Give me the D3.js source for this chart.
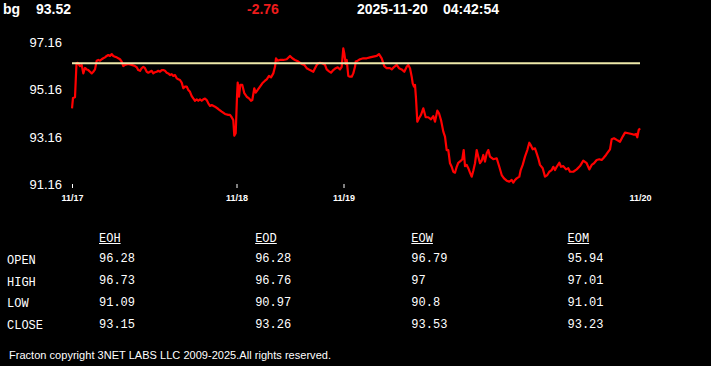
<!DOCTYPE html>
<html><head><meta charset="utf-8">
<script src="https://cdn.jsdelivr.net/npm/d3@7"></script>
<style>html,body{margin:0;padding:0;background:#000;overflow:hidden}svg{display:block}</style>
</head><body>
<svg id="c" width="711" height="366"></svg>
<script>
// ---- data ----
const symbolName = "bg";
const lastPrice = "93.52";
const netChange = "-2.76";
const stampDate = "2025-11-20";
const stampTime = "04:42:54";

const yTickValues = [91.16, 93.16, 95.16, 97.16];
const xTickValues = [0, 164.5, 271.5, 568];
const xTickLabels = ["11/17", "11/18", "11/19", "11/20"];
const refLevel = 96.28;

// [sample time index, price]
const priceSeries = [
[0,94.37],[1,94.81],[3,94.84],[4.5,96.28],[5.7,96.30],[8,96.16],[9.7,96.21],[11.3,95.85],[13,96.08],[14.7,96.02],
[16.3,95.99],[18,95.92],[19.7,95.85],[21.3,95.92],[23,96.02],[24.7,96.39],[26.3,96.42],[28,96.39],[29.7,96.45],[31.3,96.49],
[33,96.53],[34.7,96.59],[36.3,96.63],[38,96.59],[39.7,96.67],[41.3,96.59],[43,96.56],[44.7,96.53],[46.3,96.49],[48,96.45],
[49.7,96.35],[51.3,96.16],[53,96.21],[56.3,96.25],[59.7,96.21],[63,96.16],[64.7,96.11],[66.3,95.99],[68,95.96],[69.7,96.07],
[71.3,96.13],[73,96.07],[74.7,95.92],[76.3,95.88],[78,95.92],[79.7,95.96],[81.3,95.85],[83,95.90],[84.7,95.92],[86.3,95.96],
[88,95.92],[89.7,95.99],[91.3,95.99],[93,95.96],[94.7,95.88],[96.3,95.85],[98,95.78],[99.7,95.82],[101.3,95.74],[103,95.78],
[104.7,95.64],[106.3,95.60],[108,95.57],[109.7,95.46],[111.3,95.22],[113,95.29],[114.7,95.29],[116.3,95.15],[118,95.07],[119.7,94.89],
[121.3,94.79],[123,94.69],[124.7,94.75],[126.3,94.69],[128,94.75],[129.7,94.69],[131.3,94.75],[133,94.78],[134.7,94.72],[136.3,94.58],
[138,94.47],[139.7,94.51],[143,94.44],[146.3,94.34],[149.7,94.23],[153,94.13],[156.3,94.09],[158,94.09],[159.7,93.99],[161.3,93.87],
[162.3,93.21],[163.7,93.31],[165,94.86],[165.7,95.46],[167,94.86],[168.3,95.36],[170.3,95.36],[172.3,95.01],[174.7,94.86],[177,94.79],
[179,94.69],[180.3,94.72],[182.3,95.22],[183.7,95.03],[185.7,95.15],[188,95.29],[190.3,95.43],[193,95.54],[194.7,95.60],[197,95.74],
[199,95.68],[201.3,95.85],[203,96.13],[204,96.49],[205.7,96.39],[208,96.42],[211.3,96.42],[214.7,96.45],[218,96.59],[220.3,96.49],
[223,96.42],[226.3,96.35],[229.7,96.25],[232.3,96.21],[234.7,96.07],[238,95.99],[241.3,95.92],[243,96.07],[244.7,96.21],[246.3,96.28],
[248,96.30],[250.3,96.28],[253,96.21],[254.7,96.02],[256.3,95.96],[259,95.88],[261.3,95.99],[263.7,96.07],[265.7,96.11],[268,96.02],
[269.7,96.13],[271.3,96.91],[272.3,96.70],[273.7,96.25],[274.7,96.42],[276.3,95.74],[278,95.71],[279.7,95.71],[281.3,95.85],[283,96.13],
[283.7,96.35],[285.7,96.39],[288,96.45],[291.3,96.49],[294.7,96.49],[298,96.53],[301.3,96.56],[304.7,96.59],[307,96.67],[309.7,96.49],
[312.3,96.16],[314.7,96.07],[318,96.07],[319.7,96.02],[322.3,96.13],[324.7,96.21],[327,96.07],[329.7,96.02],[332.3,95.92],[334.7,96.13],
[336.3,96.21],[338,96.07],[339.7,95.71],[340.7,95.43],[342,95.29],[343,95.36],[344,94.79],[345.3,93.80],[347,93.95],[349,94.09],
[351.3,94.37],[353.7,93.99],[356.3,93.99],[359,93.90],[361.3,94.04],[363,93.80],[365.3,94.27],[367,94.16],[369,93.87],[371.3,93.38],
[373,93.17],[374.7,92.60],[376.3,92.60],[378,92.04],[379.7,91.89],[381.3,91.68],[383,91.64],[384.7,91.89],[386.3,92.06],[389,92.15],
[390.3,92.21],[391.7,92.60],[393,91.92],[394.7,91.97],[396.3,91.83],[398,91.64],[399.7,91.47],[401.3,91.72],[403,92.04],[404.7,92.60],
[406.3,92.32],[408,92.04],[409.7,92.15],[411.3,92.39],[413,92.11],[414.7,92.46],[416.3,92.60],[418,92.32],[421.3,92.21],[424.7,92.25],
[427.3,91.89],[429.7,91.54],[432,91.40],[434.7,91.30],[437.3,91.26],[439.7,91.33],[441.3,91.22],[443,91.33],[444.7,91.40],[447.3,91.47],
[448.7,91.75],[450.7,91.97],[453,92.32],[455.3,92.60],[457.3,92.91],[458.7,92.81],[460.7,92.63],[463,92.67],[464.7,92.46],[466.3,92.25],
[468,91.97],[470.7,91.83],[473,91.47],[475.3,91.54],[477.3,91.68],[479.7,91.75],[481.3,91.89],[483,91.75],[484.7,91.89],[487.3,92.06],
[489,91.89],[491.3,91.92],[494,91.78],[496.3,91.83],[498,91.68],[501.3,91.68],[504.7,91.78],[508,91.92],[511.3,92.15],[514.7,92.04],
[517.3,91.78],[519.7,91.97],[522,92.04],[524.7,92.18],[527.3,92.21],[529.7,92.18],[531.3,92.25],[534,92.39],[536.3,92.53],[538,92.63],
[539.7,93.06],[542,93.10],[544.7,93.03],[548,92.95],[550.7,93.17],[553,93.34],[556.3,93.31],[559.7,93.28],[562,93.25],[564,93.28],
[565.3,93.14],[566.7,93.45],[568,93.52]
];

const tableCols = ["EOH", "EOD", "EOW", "EOM"];
const tableRows = ["OPEN", "HIGH", "LOW", "CLOSE"];
const eohValues = ["96.28", "96.73", "91.09", "93.15"];
const eodValues = ["96.28", "96.76", "90.97", "93.26"];
const eowValues = ["96.79", "97", "90.8", "93.53"];
const eomValues = ["95.94", "97.01", "91.01", "93.23"];
const tableValues = [eohValues, eodValues, eowValues, eomValues];
const footerText = "Fracton copyright 3NET LABS LLC 2009-2025.All rights reserved.";

// ---- drawing ----
const svg = d3.select("#c");
svg.append("rect").attr("width", 711).attr("height", 366).attr("fill", "#000");

const x = d3.scaleLinear().domain([0, 568]).range([72, 640]);
const y = d3.scaleLinear().domain([91.16, 97.16]).range([184, 42.5]);

// header
const hdr = svg.append("g").attr("font-family", "'Liberation Sans', Arial, sans-serif")
  .attr("font-weight", "bold").attr("font-size", 14);
hdr.append("text").attr("x", 3).attr("y", 14).attr("fill", "#fff").text(symbolName);
hdr.append("text").attr("x", 36).attr("y", 14).attr("fill", "#fff").text(lastPrice);
hdr.append("text").attr("x", 247).attr("y", 14).attr("fill", "#ee1c1c").text(netChange);
hdr.append("text").attr("x", 357).attr("y", 14).attr("fill", "#fff").text(stampDate);
hdr.append("text").attr("x", 443).attr("y", 14).attr("fill", "#fff").text(stampTime);

// y axis
const yAxis = svg.append("g").attr("transform", "translate(64,0)")
  .call(d3.axisLeft(y).tickValues(yTickValues).tickSize(0).tickPadding(2).tickFormat(d3.format(".2f")));
yAxis.select(".domain").remove();
yAxis.selectAll("text").attr("fill", "#fff").attr("font-size", 13)
  .attr("font-family", "'Liberation Sans', Arial, sans-serif");

// x axis
const xAxis = svg.append("g").attr("transform", "translate(0,184)")
  .call(d3.axisBottom(x).tickValues(xTickValues).tickSize(4)
    .tickFormat((d, i) => xTickLabels[i]));
xAxis.select(".domain").remove();
xAxis.selectAll(".tick line").attr("stroke", "#fff").attr("stroke-width", 1)
  .attr("opacity", (d, i) => i === xTickValues.length - 1 ? 0 : 1);
xAxis.selectAll("text").attr("fill", "#fff").attr("font-size", 9).attr("font-weight", "bold")
  .attr("font-family", "'Liberation Sans', Arial, sans-serif")
  .attr("y", 16.5).attr("dy", 0);

// price line
const line = d3.line().x(d => x(d[0])).y(d => y(d[1]));
svg.append("path").datum(priceSeries).attr("d", line)
  .attr("fill", "none").attr("stroke", "#ff0000").attr("stroke-width", 2.2)
  .attr("stroke-linejoin", "round");

// reference (open) level
svg.append("path").datum([[0, refLevel], [568, refLevel]]).attr("d", line)
  .attr("fill", "none").attr("stroke", "#eee8aa").attr("stroke-width", 2);

// table
const colX = d3.scalePoint().domain(tableCols).range([99, 567.5]);
const rowY = d3.scalePoint().domain(tableRows).range([262.3, 327.7]);
const tbl = svg.append("g").attr("font-family", "'Liberation Mono', 'DejaVu Sans Mono', monospace")
  .attr("font-size", 12).attr("fill", "#fff");
tableCols.forEach((c, ci) => {
  const t = tbl.append("text").attr("x", colX(c)).attr("y", 241.7).text(c);
  const w = t.node().getComputedTextLength();
  tbl.append("line").attr("x1", colX(c)).attr("x2", colX(c) + w)
    .attr("y1", 243.5).attr("y2", 243.5).attr("stroke", "#fff").attr("stroke-width", 1);
  tableRows.forEach((r, ri) => {
    tbl.append("text").attr("x", colX(c)).attr("y", rowY(r)).text(tableValues[ci][ri]);
  });
});
tableRows.forEach(r => {
  tbl.append("text").attr("x", 7).attr("y", rowY(r) + 1.5).text(r);
});

// footer
svg.append("text").attr("x", 9).attr("y", 359.3)
  .attr("font-family", "'Liberation Sans', Arial, sans-serif").attr("font-size", 11)
  .attr("fill", "#fff").attr("textLength", 322).attr("lengthAdjust", "spacing")
  .text(footerText);
</script>
</body></html>
